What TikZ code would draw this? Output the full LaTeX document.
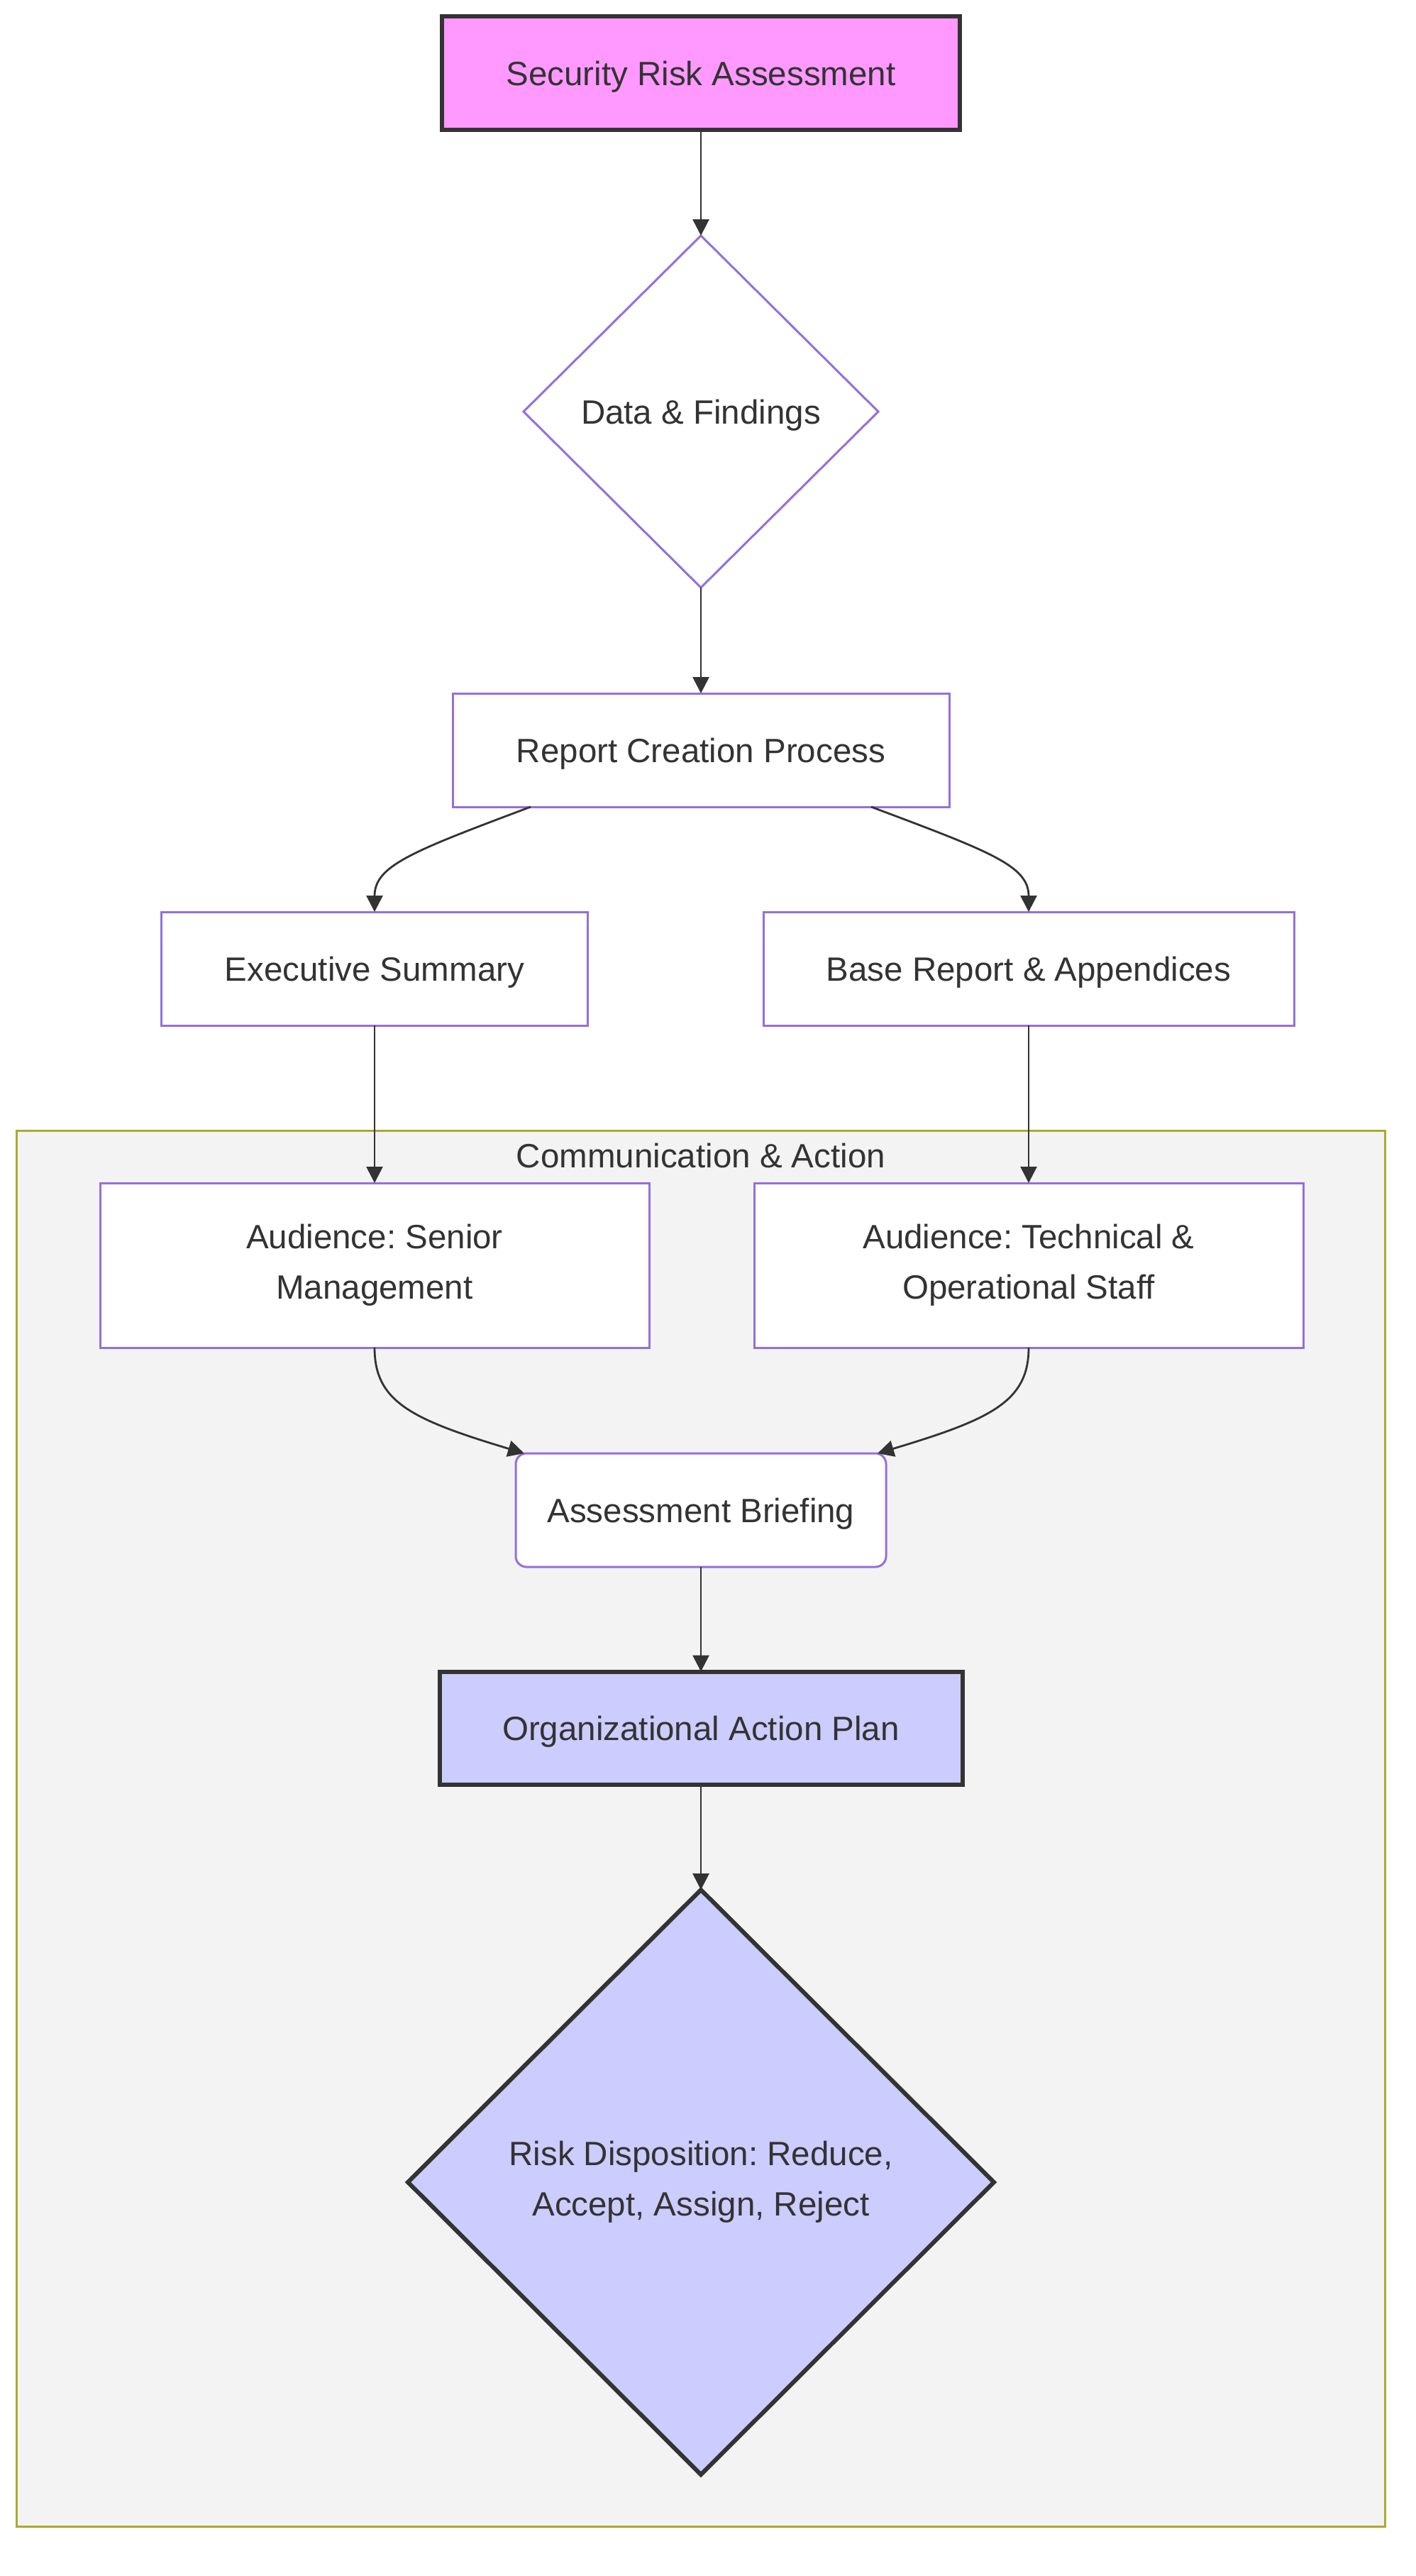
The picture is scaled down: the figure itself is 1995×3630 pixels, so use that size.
\documentclass[tikz,border=0pt]{standalone}
\usepackage{fontspec}
\setmainfont{Liberation Sans}
\frenchspacing
\usetikzlibrary{shapes.geometric,arrows.meta,calc}
\definecolor{txt}{HTML}{333333}
\definecolor{purp}{HTML}{9370DB}
\definecolor{pinkfill}{HTML}{FF99FF}
\definecolor{lavfill}{HTML}{CCCCFF}
\definecolor{clfill}{HTML}{F3F3F3}
\definecolor{cldraw}{HTML}{AAAA33}
\newcommand{\mystrut}{\rule[-0.214em]{0pt}{1.144em}}
\begin{document}
\begin{tikzpicture}[x=1pt,y=-1pt,
  base/.style={inner sep=0pt, outer sep=0pt, text=txt, align=center,
    font=\fontsize{47.5}{71}\selectfont,
    execute at begin node=\mystrut, execute at end node=\mystrut},
  plainbox/.style={base, rectangle, draw=purp, line width=3pt, fill=white},
  roundbox/.style={plainbox, rounded corners=15pt},
  plaindia/.style={base, diamond, draw=purp, line width=3pt, fill=white},
  startbox/.style={base, rectangle, draw=txt, line width=6pt, fill=pinkfill},
  actbox/.style={base, rectangle, draw=txt, line width=6pt, fill=lavfill},
  actdia/.style={base, diamond, draw=txt, line width=6pt, fill=lavfill},
  clusterbox/.style={rectangle, draw=cldraw, line width=3pt, fill=clfill, inner sep=0pt},
  edge/.style={draw=txt, line width=2.8pt, -{Triangle[length=23pt,width=23pt]}}
]
\useasboundingbox (0,0) rectangle (1995,3630);
\fill[white] (0,0) rectangle (1995,3630);

% cluster
\node[clusterbox, minimum width=1929pt, minimum height=1967pt] (comm) at (987.5,2576.5) {};
\node[base] (commlabel) at (988,1628) {Communication \& Action};

% nodes
\node[startbox, minimum width=730pt, minimum height=160pt] (sra) at (988,103) {Security Risk Assessment};
\node[plaindia, minimum width=500pt, minimum height=496pt] (df) at (988,580) {Data \& Findings};
\node[plainbox, minimum width=700pt, minimum height=160pt] (rcp) at (988,1057) {Report Creation Process};
\node[plainbox, minimum width=601pt, minimum height=160pt] (es) at (528,1365) {Executive Summary};
\node[plainbox, minimum width=748pt, minimum height=160pt] (bra) at (1450,1365) {Base Report \& Appendices};
\node[plainbox, minimum width=774pt, minimum height=232pt] (asm) at (528,1783) {Audience: Senior\\Management};
\node[plainbox, minimum width=774pt, minimum height=232pt] (ato) at (1450,1783) {Audience: Technical \&\\Operational Staff};
\node[roundbox, minimum width=522pt, minimum height=160pt] (ab) at (988,2128) {Assessment Briefing};
\node[actbox, minimum width=737pt, minimum height=159pt] (oap) at (988,2435) {Organizational Action Plan};
\node[actdia, minimum width=826pt, minimum height=824pt] (rd) at (988,3075) {Risk Disposition: Reduce,\\Accept, Assign, Reject};

% edges
\draw[edge] (sra.south) -- (df.north);
\draw[edge] (df.south) -- (rcp.north);
\draw[edge] ($(rcp.south)+(-240,0)$) .. controls ($(rcp.south)+(-408,63)$) and ($(es.north)+(0,-65)$) .. (es.north);
\draw[edge] ($(rcp.south)+(240,0)$) .. controls ($(rcp.south)+(408,63)$) and ($(bra.north)+(0,-65)$) .. (bra.north);
\draw[edge] (es.south) -- (asm.north);
\draw[edge] (bra.south) -- (ato.north);
\draw[edge] (asm.south) .. controls ($(asm.south)+(0,76)$) and ($(ab.north)+(-409,-48)$) .. ($(ab.north)+(-249,0)$);
\draw[edge] (ato.south) .. controls ($(ato.south)+(0,76)$) and ($(ab.north)+(409,-48)$) .. ($(ab.north)+(249,0)$);
\draw[edge] (ab.south) -- (oap.north);
\draw[edge] (oap.south) -- (rd.north);
\end{tikzpicture}
\end{document}
